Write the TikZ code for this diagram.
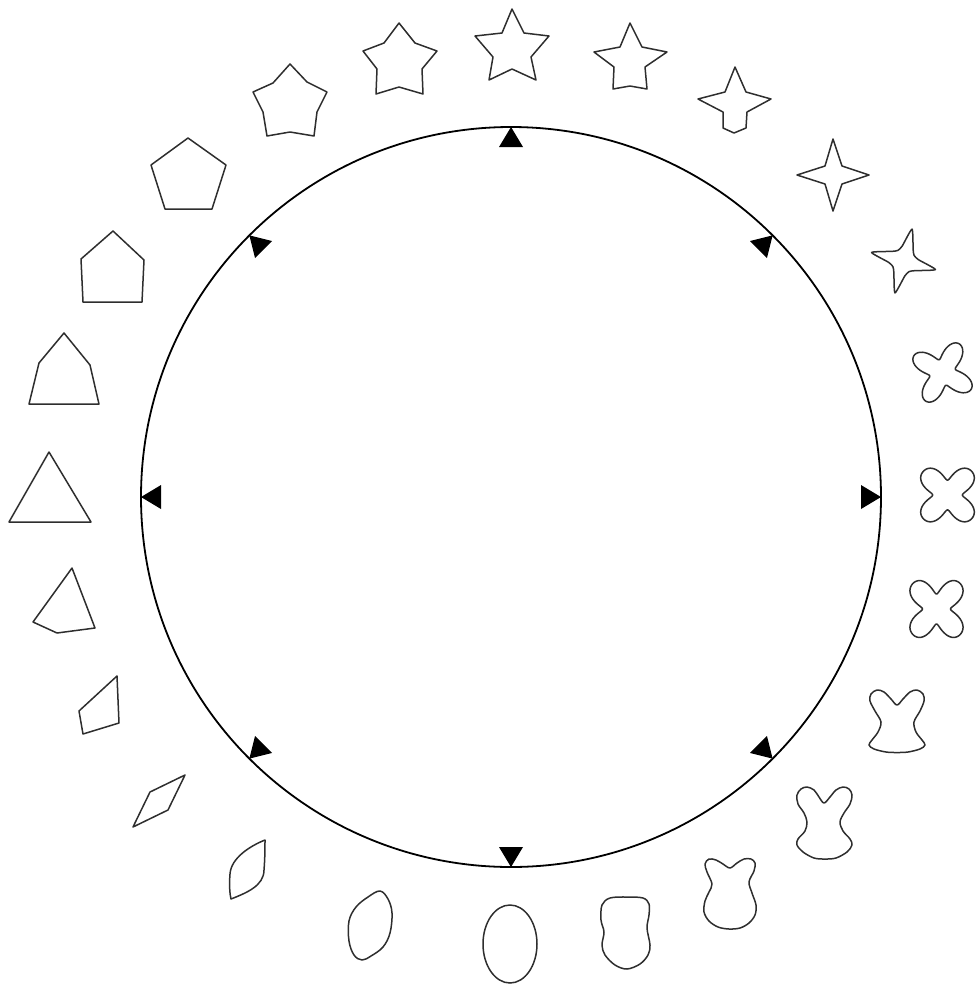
\documentclass[tikz,border=0pt]{standalone}
\begin{document}
\begin{tikzpicture}[x=1pt,y=-1pt,
  shp/.style={draw=black!82, line width=1.5pt, line join=round},
  mark/.style={fill=black}]
\useasboundingbox (0,0) rectangle (976,986);
% big ring
\node[circle, draw=black, line width=1.8pt, minimum size=740pt, inner sep=0pt] (ring) at (511,497) {};
% eight outward-pointing triangles on the ring
\foreach \a in {0,45,...,315}
  \fill[shift={(ring.center)}, rotate=\a] (370,0) -- (350,12) -- (350,-12) -- cycle;

% 0: five-point star (top)
\draw[shp] (512,9) -- (524,33) -- (549,36) -- (531,57) -- (536,80) -- (512,69) -- (489,80) -- (493,57) -- (475,36) -- (502,33) -- cycle;
% 1
\draw[shp] (630,23) -- (642,47) -- (667,52) -- (645,67) -- (647,89) -- (630,86) -- (613,89) -- (614,67) -- (594,52) -- (620,47) -- cycle;
% 2
\draw[shp] (735,67) -- (746,92) -- (771,99) -- (747,112) -- (746,128) -- (734,133) -- (723,128) -- (723,112) -- (698,99) -- (725,92) -- cycle;
% 3: four-point star
\draw[shp] (833,139) -- (842,166) -- (869,175) -- (842,184) -- (833,211) -- (825,184) -- (797,175) -- (825,166) -- cycle;
% 4: twisted four-point star
\draw[shp, shift={(903.5,261)}] plot[smooth cycle, tension=0.35] coordinates {
  (-75:33) (-50:15) (-28:12) (-5:15) (15:33) (40:15) (62:12) (85:15)
  (105:33) (130:15) (152:12) (175:15) (195:33) (220:15) (242:12) (265:15)};
% 5
\draw[shp, shift={(942.5,372.5)}] plot[smooth cycle, domain=0:357, samples=120, variable=\t]
  (\t:{23.5+10*cos(4*(\t-30))-0.3*cos(8*(\t-30))});
% 6
\draw[shp, shift={(947.5,495)}] plot[smooth cycle, domain=0:357, samples=120, variable=\t]
  (\t:{25.5+9.5*cos(4*(\t-45))-1.14*cos(8*(\t-45))});
% 7
\draw[shp, shift={(936.5,609)}, yscale=1.07] plot[smooth cycle, domain=0:357, samples=120, variable=\t]
  (\t:{25+9.8*cos(4*(\t-45))-1.2*cos(8*(\t-45))});
% 8
\draw[shp] plot[smooth cycle, tension=0.55] coordinates {
  (897,705) (903,699) (910,692) (917,690) (923,694) (924,701) (920,711) (914,722)
  (916,732) (922,740) (925,745) (920,749) (908,752) (897,752.5) (886,752) (874,749)
  (869,745) (872,740) (878,732) (881,722) (875,711) (870,701) (871,694) (877,690)
  (884,692) (891,699)};
% 9
\draw[shp] plot[smooth cycle, tension=0.55] coordinates {
  (824,803) (830,797) (836,790) (843,787) (849,789) (852,795) (850,804) (844,813)
  (840,822) (843,831) (850,839) (852,845) (847,852) (836,858) (825,859) (814,858)
  (803,852) (797,845) (798,839) (805,831) (807,822) (804,813) (798,804) (797,795)
  (801,789) (807,787) (814,790) (819,797)};
% 10
\draw[shp] plot[smooth cycle, tension=0.55] coordinates {
  (730,868) (737,863) (744,859) (751,859) (755,863) (754,871) (749,882)
  (752,893) (756,905) (755,915) (749,923) (740,928) (729,929) (718,927)
  (709,921) (704,912) (705,901) (709,892) (712,884) (707,872) (705,864)
  (709,859) (716,860) (723,864)};
% 11
\draw[shp] plot[smooth cycle, tension=0.55] coordinates {
  (610,898) (627,897) (643,898) (649,904) (649,915) (647,928) (650,945) (648,955)
  (640,964) (627,969) (615,965) (605,955) (602,945) (604,932) (601,920) (602,905)};
% 12: ellipse
\draw[shp] (510,944) ellipse [x radius=27, y radius=39];
% 13
\draw[shp] plot[smooth cycle, tension=0.6] coordinates {
  (380,891) (388,899) (392,913) (390,933) (383,947) (371,956) (362,960)
  (354,955) (349,941) (349,921) (356,907) (368,897)};
% 14: lens
\draw[shp] (265,840) .. controls (250,846) and (231,858) .. (230,874)
  .. controls (229,886) and (230,895) .. (231,899)
  .. controls (246,893) and (264,886) .. (264,870)
  .. controls (265,858) and (265,846) .. (265,840) -- cycle;
% 15: rhombus
\draw[shp] (185,775) -- (150,792) -- (133,827) -- (168,810) -- cycle;
% 16
\draw[shp] (117,676) -- (79,711) -- (83,734) -- (119,723) -- cycle;
% 17
\draw[shp] (72,568) -- (33,622) -- (57,633) -- (95,628) -- cycle;
% 18: triangle
\draw[shp] (49,452) -- (9,522) -- (91,522) -- cycle;
% 19
\draw[shp] (64,333) -- (39,363) -- (29,404) -- (99,404) -- (90,365) -- cycle;
% 20
\draw[shp] (113,231) -- (81,259) -- (83,302) -- (142,302) -- (144,260) -- cycle;
% 21: pentagon
\draw[shp] (188,138) -- (151,165) -- (165,209) -- (212,209) -- (226,165) -- cycle;
% 22
\draw[shp] (290,64) -- (307,82) -- (327,92) -- (317,112) -- (314,136) -- (290,132) -- (267,136) -- (263,112) -- (253,92) -- (273,83) -- cycle;
% 23
\draw[shp] (399,23) -- (415,43) -- (437,51) -- (422,69) -- (423,94) -- (399,87) -- (376,94) -- (377,69) -- (363,51) -- (384,43) -- cycle;
\end{tikzpicture}
\end{document}
